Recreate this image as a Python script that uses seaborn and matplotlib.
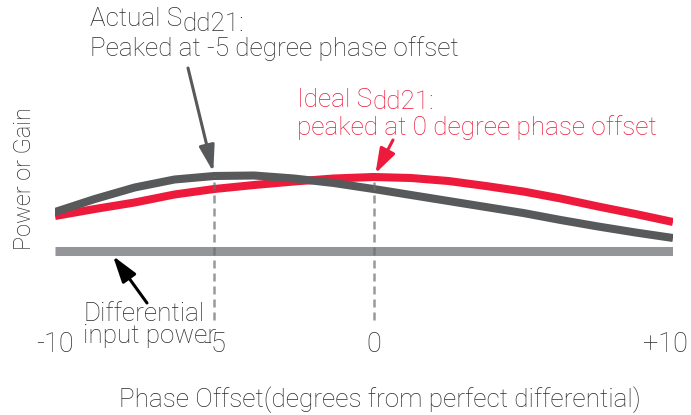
import numpy as np
import pandas as pd
import matplotlib
matplotlib.use('Agg')
import matplotlib.pyplot as plt
import matplotlib.transforms as mtransforms
import seaborn as sns

# valores (unidades arbitrarias, barra de entrada = 0)
phase = [-10, -8.75, -7.5, -6.25, -5, -3.75, -2.5, -1.25, 0,
         1.25, 2.5, 3.75, 5, 6.25, 7.5, 8.75, 10]
ideal_sdd21 = [3.55, 4.25, 4.9, 5.7, 6.25, 6.65, 7.0, 7.3, 7.45,
               7.35, 7.05, 6.55, 6.0, 5.3, 4.5, 3.75, 2.95]
actual_sdd21 = [3.95, 5.25, 6.4, 7.2, 7.55, 7.6, 7.3, 6.85, 6.25,
                5.65, 5.05, 4.45, 3.85, 3.15, 2.5, 1.9, 1.35]
input_phase = [-10, 10]
input_power = [0, 0]

tick_vals = [-10, -5, 0, 10]
tick_labels = ['-10', '-5', '0', '+10']

RED = '#ed1a3b'
DARK = '#58595b'
LIGHT = '#939598'
TXT = '#2b2b2b'
FS = 18.8

sns.set_style('white')
plt.rcParams['font.family'] = ['Roboto', 'DejaVu Sans']
plt.rcParams['font.weight'] = 'light'

W, H = 691, 415
fig = plt.figure(figsize=(W / 100, H / 100), dpi=100)
ax = fig.add_axes([55 / W, (H - 330) / H, 618 / W, 310 / H])

# el dibujo original no es lineal: el lado derecho esta algo comprimido
def fwd(x):
    x = np.asarray(x, dtype=float)
    return np.where(x > 0, x * 0.94, x)

def inv(x):
    x = np.asarray(x, dtype=float)
    return np.where(x > 0, x / 0.94, x)

ax.set_xscale('function', functions=(fwd, inv))

sns.lineplot(x=input_phase, y=input_power, color=LIGHT, lw=6.5,
             solid_capstyle='butt', ax=ax)
sns.lineplot(x=phase, y=ideal_sdd21, color=RED, lw=5.8,
             solid_capstyle='butt', ax=ax)
sns.lineplot(x=phase, y=actual_sdd21, color=DARK, lw=5.8,
             solid_capstyle='butt', ax=ax)

# lineas punteadas en los picos
peak_actual = actual_sdd21[phase.index(-5)]
peak_ideal = ideal_sdd21[phase.index(0)]
ax.vlines([-5, 0], -6.85, [peak_actual, peak_ideal], colors='#6d6e71',
          linestyles=(0, (3.2, 2.0)), lw=1.8, alpha=0.7, zorder=5)

ax.set_xlim(-10, 10)
ax.set_ylim(-7.85, 23.15)
ax.set_xticks(tick_vals, tick_labels)
ax.set_yticks([])
ax.tick_params(axis='x', length=0, pad=1, labelsize=19.5, labelcolor=TXT)
sns.despine(ax=ax, left=True, bottom=True)
ax.set_xlabel('')
ax.set_ylabel('')

lab = ax.get_xticklabels()[-1]
lab.set_transform(lab.get_transform() + mtransforms.ScaledTranslation(-8 / 100, 0, fig.dpi_scale_trans))

fig.text(380 / W, 1 - 407 / H, 'Phase Offset(degrees from perfect differential)',
         ha='center', va='baseline', fontsize=FS, color=TXT)
fig.text(25 / W, 1 - 178 / H, 'Power or Gain', rotation=90,
         ha='center', va='center', fontsize=17, color=TXT)

# textos de anotacion
t1 = fig.text(90 / W, 1 - 26 / H, 'Actual S', fontsize=FS, color=TXT, va='baseline')
ax.annotate('dd21:', xy=(1, 0), xycoords=t1, xytext=(0.5, -3.6),
            textcoords='offset points', va='bottom', fontsize=FS, color=TXT)
fig.text(90 / W, 1 - 56 / H, 'Peaked at -5 degree phase offset',
         fontsize=FS, color=TXT, va='baseline')

t2 = fig.text(297 / W, 1 - 107 / H, 'Ideal S', fontsize=FS, color=RED, va='baseline')
ax.annotate('dd21:', xy=(1, 0), xycoords=t2, xytext=(0.5, -1.5),
            textcoords='offset points', va='bottom', fontsize=FS, color=RED)
fig.text(297 / W, 1 - 135 / H, 'peaked at 0 degree phase offset',
         fontsize=FS, color=RED, va='baseline')

fig.text(83 / W, 1 - 321 / H, 'Differential', fontsize=FS, color=TXT, va='baseline')
fig.text(83 / W, 1 - 343 / H, 'input power', fontsize=FS, color=TXT, va='baseline')

# flechas
ax.annotate('', xy=(-5, peak_actual), xytext=(188, H - 68), textcoords='figure pixels',
            arrowprops=dict(arrowstyle='-|>,head_length=1.6,head_width=0.47',
                            mutation_scale=10, color=DARK, lw=2.2,
                            shrinkA=0, shrinkB=3))
ax.annotate('', xy=(0, peak_ideal), xytext=(393, H - 140), textcoords='figure pixels',
            arrowprops=dict(arrowstyle='-|>,head_length=1.5,head_width=0.5',
                            mutation_scale=10, color=RED, lw=2.2,
                            shrinkA=0, shrinkB=3))
ax.annotate('', xy=(-8.18, -0.45), xytext=(147, H - 303), textcoords='figure pixels',
            arrowprops=dict(arrowstyle='-|>,head_length=1.6,head_width=0.5',
                            mutation_scale=10, color='black', lw=2.2,
                            shrinkA=0, shrinkB=0))

fig.savefig('out.png', dpi=100)
